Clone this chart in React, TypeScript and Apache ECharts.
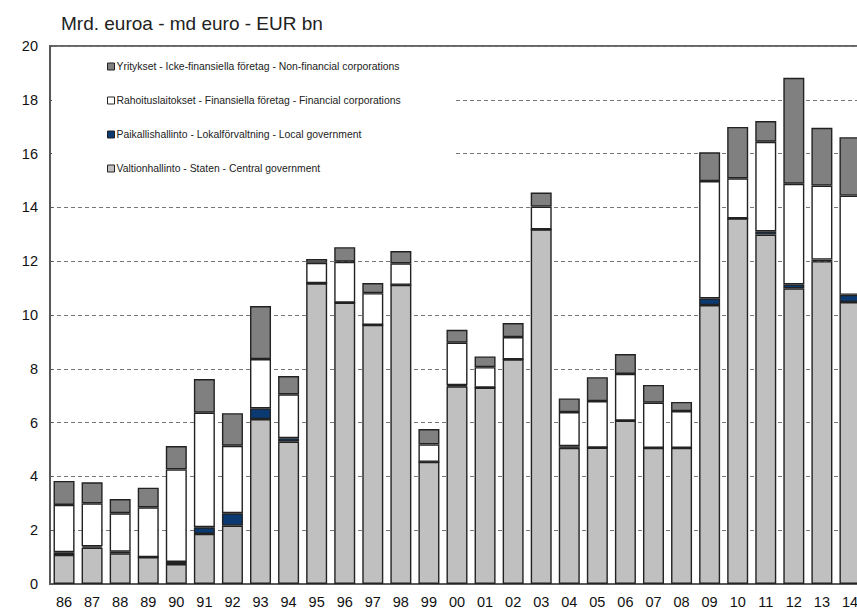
import React, { useEffect, useRef } from "react";
import * as echarts from "echarts";

const years = ["86","87","88","89","90","91","92","93","94","95","96","97","98","99","00","01","02","03","04","05","06","07","08","09","10","11","12","13","14"];
const central = [1.08,1.35,1.14,1.00,0.74,1.86,2.17,6.13,5.29,11.18,10.46,9.63,11.12,4.54,7.35,7.30,8.35,13.18,5.06,5.07,6.07,5.06,5.06,10.37,13.59,12.99,10.99,12.00,10.48];
const local = [0.10,0.05,0.06,0,0.08,0.25,0.46,0.40,0.13,0,0,0,0,0,0.04,0,0,0,0.06,0,0,0,0,0.25,0,0.12,0.15,0.06,0.27];
const financial = [1.76,1.60,1.43,1.85,3.44,4.26,2.51,1.83,1.63,0.76,1.52,1.18,0.80,0.65,1.58,0.76,0.83,0.85,1.27,1.73,1.74,1.68,1.37,4.36,1.49,3.33,3.74,2.75,3.69];
const nonFinancial = [0.89,0.78,0.53,0.73,0.87,1.25,1.21,1.97,0.68,0.14,0.54,0.38,0.46,0.57,0.48,0.40,0.52,0.52,0.51,0.89,0.74,0.66,0.34,1.07,1.91,0.77,3.94,2.15,2.17];

const names = {
  central: "Valtionhallinto - Staten - Central government",
  local: "Paikallishallinto - Lokalförvaltning - Local government",
  fin: "Rahoituslaitokset - Finansiella företag - Financial corporations",
  nonfin: "Yritykset - Icke-finansiella företag - Non-financial corporations",
};

const FONT = "'Liberation Sans', Arial, sans-serif";

export default function App() {
  const ref = useRef<HTMLDivElement>(null);
  useEffect(() => {
    if (!ref.current) return;
    const chart = echarts.init(ref.current, undefined, { renderer: "svg" });
    const mk = (name: string, data: number[], color: string) => ({
      name,
      type: "bar",
      stack: "total",
      data,
      barWidth: 21,
      itemStyle: { color, borderColor: "#222", borderWidth: 1.4 },
    });
    chart.setOption({
      animation: false,
      backgroundColor: "#fff",
      title: {
        text: "Mrd. euroa - md euro - EUR bn",
        left: 56,
        top: 9,
        textStyle: { fontFamily: FONT, fontSize: 19, fontWeight: "normal", color: "#222" },
      },
      legend: {
        orient: "vertical",
        left: 52,
        top: 47,
        padding: [14.5, 55, 20, 55],
        backgroundColor: "#fff",
        itemWidth: 7,
        itemHeight: 7,
        itemGap: 24,
        icon: "rect",
        data: [names.nonfin, names.fin, names.local, names.central],
        textStyle: { fontFamily: FONT, fontSize: 10.4, color: "#222", padding: [0, 0, 0, -3] },
        itemStyle: { borderColor: "#222", borderWidth: 1 },
      },
      grid: {
        left: 50,
        top: 46,
        bottom: 26,
        right: 0,
        show: true,
        borderColor: "#666",
        borderWidth: 2,
        backgroundColor: "transparent",
      },
      xAxis: {
        type: "category",
        data: years,
        axisTick: { show: false },
        axisLine: { lineStyle: { color: "#555", width: 1.5 } },
        axisLabel: { fontFamily: FONT, fontSize: 14.5, color: "#111", margin: 10, interval: 0 },
      },
      yAxis: {
        type: "value",
        min: 0,
        max: 20,
        interval: 2,
        axisLine: { show: true, lineStyle: { color: "#555", width: 1.5 } },
        axisTick: { show: true, inside: true, length: 3, lineStyle: { color: "#555" } },
        axisLabel: { fontFamily: FONT, fontSize: 14.5, color: "#111", margin: 12 },
        splitLine: { show: true, lineStyle: { color: "#777", type: [4, 3], width: 1 } },
      },
      series: [
        mk(names.central, central, "#c0c0c0"),
        mk(names.local, local, "#0b3a73"),
        mk(names.fin, financial, "#ffffff"),
        mk(names.nonfin, nonFinancial, "#808080"),
      ],
    });
    return () => chart.dispose();
  }, []);
  return (
    <div style={{ position: "fixed", left: 0, top: 0, width: 857, height: 610, overflow: "hidden" }}>
      <div ref={ref} style={{ width: 864, height: 610 }} />
    </div>
  );
}
